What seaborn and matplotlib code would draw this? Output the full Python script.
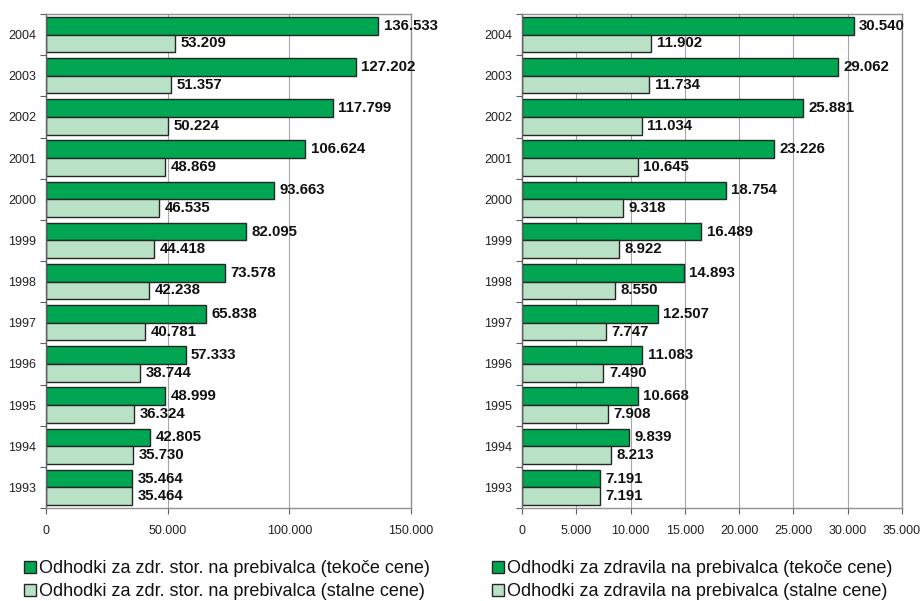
import matplotlib
matplotlib.use("Agg")
import matplotlib.pyplot as plt
import seaborn as sns
import pandas as pd
import numpy as np
from matplotlib.ticker import FuncFormatter, FixedLocator

years = ["2004", "2003", "2002", "2001", "2000", "1999", "1998", "1997", "1996", "1995", "1994", "1993"]
zdr_tekoce = [136533, 127202, 117799, 106624, 93663, 82095, 73578, 65838, 57333, 48999, 42805, 35464]
zdr_stalne = [53209, 51357, 50224, 48869, 46535, 44418, 42238, 40781, 38744, 36324, 35730, 35464]
zdravila_tekoce = [30540, 29062, 25881, 23226, 18754, 16489, 14893, 12507, 11083, 10668, 9839, 7191]
zdravila_stalne = [11902, 11734, 11034, 10645, 9318, 8922, 8550, 7747, 7490, 7908, 8213, 7191]

left_labels = ["Odhodki za zdr. stor. na prebivalca (tekoče cene)",
               "Odhodki za zdr. stor. na prebivalca (stalne cene)"]
right_labels = ["Odhodki za zdravila na prebivalca (tekoče cene)",
                "Odhodki za zdravila na prebivalca (stalne cene)"]

left_ticks = [0, 50000, 100000, 150000]
right_ticks = [0, 5000, 10000, 15000, 20000, 25000, 30000, 35000]

DARK = "#00A651"
LIGHT = "#B9E1C6"

sns.set_theme(style="white")
plt.rcParams['font.family'] = ['Liberation Sans', 'DejaVu Sans']

fig = plt.figure(figsize=(9.21, 6.01), dpi=100)
axL = fig.add_axes([46/921, 1-508/601, 365/921, 494/601])
axR = fig.add_axes([522/921, 1-508/601, 380/921, 494/601])

def fmt(v):
    return f"{int(v):,}".replace(",", ".")

def draw(ax, a, b, labels, ticks, leg_x):
    df = pd.DataFrame({
        "year": years * 2,
        "value": a + b,
        "series": [labels[0]] * len(years) + [labels[1]] * len(years),
    })
    sns.barplot(data=df, x="value", y="year", hue="series", order=years,
                hue_order=labels, palette=[DARK, LIGHT], orient="h",
                width=0.86, edgecolor="#262626", linewidth=1.0, ax=ax,
                errorbar=None, saturation=1)
    for c in ax.containers:
        ax.bar_label(c, labels=[fmt(v) for v in c.datavalues], padding=4,
                     fontsize=10.8, fontweight="bold", color="#111111")
    ax.set_xlim(ticks[0], ticks[-1])
    ax.set_ylim(len(years) - 0.5, -0.5)
    ax.set_xticks(ticks)
    ax.xaxis.set_major_formatter(FuncFormatter(lambda v, p: fmt(v)))
    ax.set_xlabel("")
    ax.set_ylabel("")
    ax.grid(axis="x", color="#A6A6A6", linewidth=0.8)
    ax.grid(axis="y", visible=False)
    ax.set_axisbelow(True)
    for s in ax.spines.values():
        s.set_color("#909090")
        s.set_linewidth(1.0)
    ax.spines["left"].set_color("#606060")
    ax.tick_params(axis="x", labelsize=9, length=4, width=0.8, color="#606060",
                   direction="out", bottom=True, pad=8, labelcolor="#222222")
    ax.tick_params(axis="y", which="major", labelsize=9, length=0, pad=7,
                   labelcolor="#222222")
    ax.yaxis.set_minor_locator(FixedLocator(np.arange(-0.5, len(years), 1.0)))
    ax.tick_params(axis="y", which="minor", length=4, width=0.8, color="#606060",
                   left=True, direction="out")
    h, l = ax.get_legend_handles_labels()
    ax.legend_.remove()
    fig.legend(h, l, loc="upper left", bbox_to_anchor=(leg_x, 1 - 560/601),
               frameon=False, fontsize=13, handlelength=0.65, handleheight=0.65,
               handletextpad=0.2, labelspacing=0.35, borderaxespad=0,
               borderpad=0, labelcolor="#111111")

draw(axL, zdr_tekoce, zdr_stalne, left_labels, left_ticks, 24/921)
draw(axR, zdravila_tekoce, zdravila_stalne, right_labels, right_ticks, 492/921)

fig.savefig("out.png", dpi=100)
